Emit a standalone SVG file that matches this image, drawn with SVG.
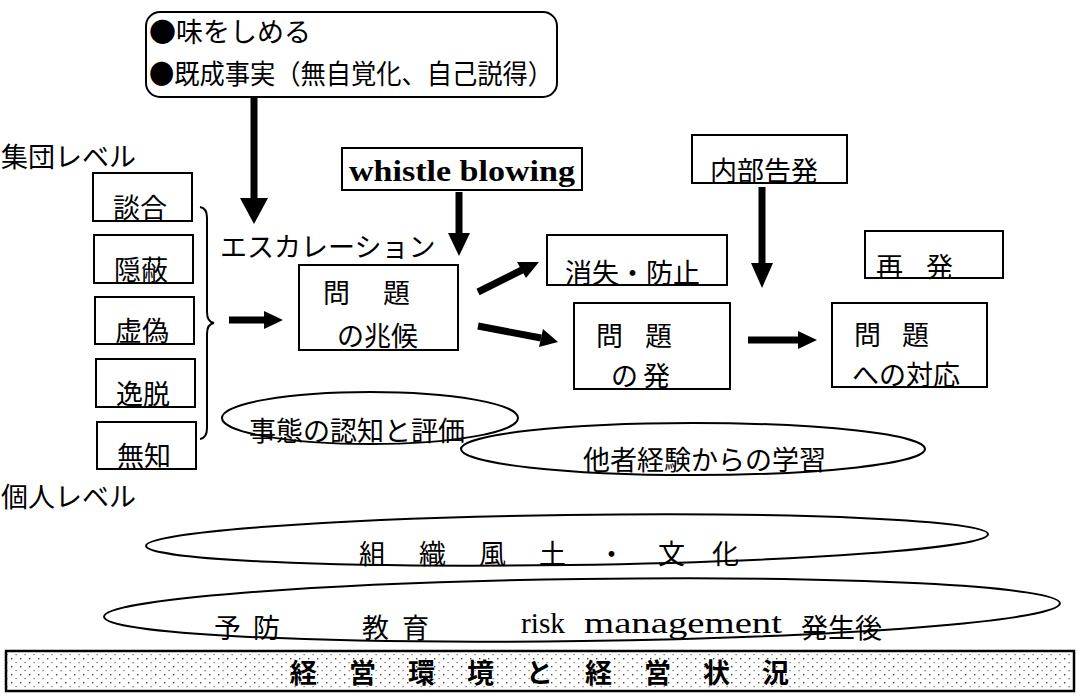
<svg xmlns="http://www.w3.org/2000/svg" width="1080" height="699" viewBox="0 0 1080 699">
<defs>
<style>
.t{font-family:"Noto Sans CJK JP","Noto Sans",sans-serif;font-size:27px;fill:#000}
.s{font-family:"Liberation Serif",serif;fill:#000}
.b{fill:#fff;stroke:#000;stroke-width:2}
.e{fill:none;stroke:#000;stroke-width:2}
.sh{stroke:#000;stroke-width:7;fill:none}
.hd{fill:#000}
</style>
<pattern id="dots" width="9" height="8" patternUnits="userSpaceOnUse">
<rect width="9" height="8" fill="#fff"/>
<rect x="2" y="2" width="1.4" height="1.4" fill="#444"/>
<rect x="6.5" y="6" width="1.2" height="1.2" fill="#666"/>
</pattern>
</defs>
<rect width="1080" height="699" fill="#fff"/>

<g id="top">
<rect class="b" x="146" y="12" width="411" height="85" rx="14"/>
<text class="t" x="149" y="42" font-size="25">●味をしめる</text>
<text class="t" x="149" y="84" font-size="25" textLength="404" lengthAdjust="spacingAndGlyphs">●既成事実（無自覚化、自己説得）</text>
</g>

<g id="labels">
<text class="t" x="1" y="167" font-size="25">集団レベル</text>
<text class="t" x="1" y="507" font-size="25">個人レベル</text>
<text class="t" x="220" y="257" font-size="27">エスカレーション</text>
</g>

<g id="n-dango"><rect class="b" x="93" y="173" width="99" height="48"/><text class="t" x="113" y="218">談合</text></g>
<g id="n-inpei"><rect class="b" x="94" y="235" width="99" height="48"/><text class="t" x="114" y="280">隠蔽</text></g>
<g id="n-kyogi"><rect class="b" x="95" y="297" width="99" height="47"/><text class="t" x="115" y="341">虚偽</text></g>
<g id="n-itsudatsu"><rect class="b" x="96" y="359" width="99" height="48"/><text class="t" x="116" y="404">逸脱</text></g>
<g id="n-muchi"><rect class="b" x="97" y="422" width="99" height="47"/><text class="t" x="117" y="466">無知</text></g>

<g id="brace">
<path class="e" d="M200,207 Q207,208 207,218 L207,312 Q207,322 214,323 Q207,324 207,334 L207,428 Q207,438 200,439"/>
</g>

<g id="n-choko"><rect class="b" x="299" y="265" width="159" height="85"/>
<text class="t" x="323" y="303">問</text><text class="t" x="383" y="303">題</text>
<text class="t" x="337" y="346">の兆候</text></g>

<g id="n-whistle"><rect class="b" x="342" y="148" width="240" height="42"/>
<text class="s" x="349" y="181" font-size="29" font-weight="bold" textLength="226" lengthAdjust="spacingAndGlyphs">whistle blowing</text></g>

<g id="n-naibu"><rect class="b" x="692" y="135" width="155" height="48"/><text class="t" x="710" y="181">内部告発</text></g>
<g id="n-shoshitsu"><rect class="b" x="547" y="235" width="180" height="50"/><text class="t" x="565" y="283">消失・防止</text></g>
<g id="n-saihatsu"><rect class="b" x="865" y="231" width="138" height="47"/><text class="t" x="876" y="277">再</text><text class="t" x="926" y="277">発</text></g>
<g id="n-hatsu"><rect class="b" x="574" y="303" width="156" height="86"/>
<text class="t" x="596" y="346" font-size="26">問</text><text class="t" x="645" y="346" font-size="26">題</text>
<text class="t" x="611" y="386" font-size="26">の</text><text class="t" x="643" y="386" font-size="26">発</text></g>
<g id="n-taio"><rect class="b" x="832" y="303" width="155" height="84"/>
<text class="t" x="854" y="345" font-size="26">問</text><text class="t" x="902" y="345" font-size="26">題</text>
<text class="t" x="852" y="385" font-size="26">への対応</text></g>

<g id="e-jitai"><ellipse class="e" cx="370" cy="418" rx="148" ry="26"/><text class="t" x="249" y="441" font-size="29">事態の認知と評価</text></g>
<g id="e-tasha"><ellipse class="e" cx="693" cy="449" rx="232" ry="26"/><text class="t" x="583" y="470" font-size="29">他者経験からの学習</text></g>
<g id="e-soshiki"><ellipse class="e" cx="567" cy="540" rx="421" ry="25" transform="rotate(-0.8 567 540)"/>
<text class="t" x="359" y="564">組</text><text class="t" x="419" y="564">織</text><text class="t" x="479" y="564">風</text><text class="t" x="539" y="564">土</text><text class="t" x="598" y="564">・</text><text class="t" x="658" y="564">文</text><text class="t" x="712" y="564">化</text></g>
<g id="e-yobo"><ellipse class="e" cx="582" cy="610" rx="478" ry="31" transform="rotate(-0.8 582 610)"/>
<text class="t" x="214" y="638">予</text><text class="t" x="253" y="638">防</text>
<text class="t" x="362" y="638">教</text><text class="t" x="402" y="638">育</text>
<text class="s" x="521" y="633" font-size="29" textLength="44" lengthAdjust="spacingAndGlyphs">risk</text>
<text class="s" x="584" y="633" font-size="29" textLength="198" lengthAdjust="spacingAndGlyphs">management</text>
<text class="t" x="801" y="638">発生後</text></g>

<g id="n-keiei"><rect x="6" y="651" width="1068" height="40" fill="url(#dots)" stroke="#000" stroke-width="2.5"/>
<text class="t" x="290" y="683" font-weight="bold" letter-spacing="32">経営環境と経営状況</text></g>

<g id="connectors">
<line class="sh" x1="254" y1="97" x2="254" y2="200"/><polygon class="hd" points="240,198 268,198 254,224"/>
<line class="sh" x1="459" y1="192" x2="459" y2="235"/><polygon class="hd" points="448,233 470,233 459,256"/>
<line class="sh" x1="762" y1="187" x2="762" y2="265"/><polygon class="hd" points="751,263 773,263 762,288"/>
<line class="sh" x1="229" y1="320" x2="266" y2="320"/><polygon class="hd" points="264,311 264,329 283,320"/>
<line class="sh" x1="478" y1="292" x2="522" y2="270"/><polygon class="hd" points="517,262 526,278 539,262"/>
<line class="sh" x1="478" y1="326" x2="541" y2="338"/><polygon class="hd" points="543,329 539,347 558,342"/>
<line class="sh" x1="748" y1="340" x2="800" y2="340"/><polygon class="hd" points="798,331 798,349 817,340"/>
</g>
</svg>
